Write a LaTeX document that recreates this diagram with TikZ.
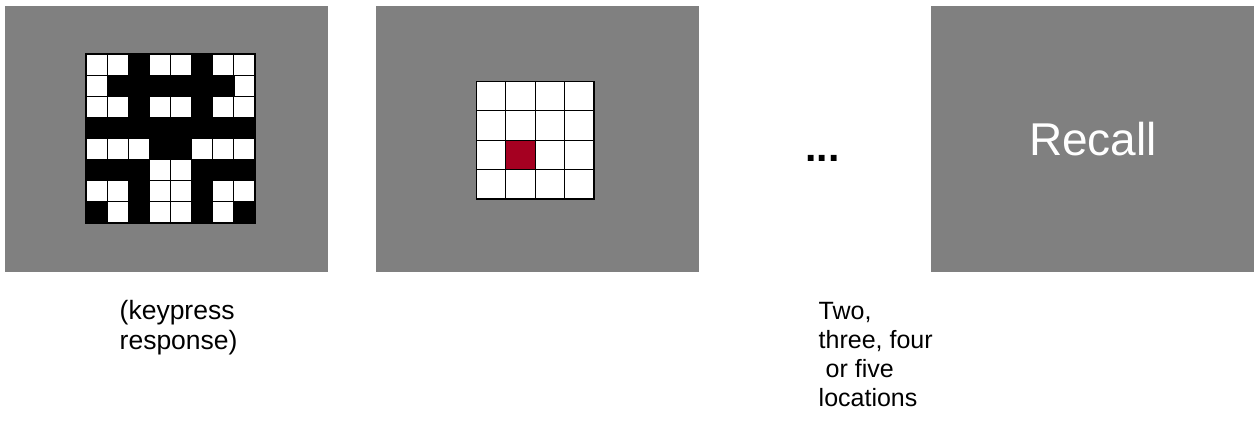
\documentclass[tikz,border=0pt]{standalone}
\usepackage{fontspec}
\setmainfont{Liberation Sans}
\definecolor{panelgray}{RGB}{128,128,128}
\definecolor{cuered}{RGB}{165,0,33}
\begin{document}
\begin{tikzpicture}[x=1pt,y=-1pt,
  panel/.style={fill=panelgray, draw=none, minimum width=323pt, minimum height=266pt, inner sep=0pt, anchor=north west},
  gridline/.style={draw=black, line width=1pt},
  label/.style={anchor=north west, inner sep=0pt, align=left, font=\fontsize{25}{29}\selectfont}
]
\useasboundingbox[fill=white] (0,0) rectangle (1254,435);

% panels
\node[panel] (p1) at (5,6) {};
\node[panel] (p2) at (376,6) {};
\node[panel] (p4) at (931,6) {};

% grid 1: 8x8 black/white pattern
\def\ga{21.125}
\fill[white] (86,54) rectangle (255,223);
\foreach \i in {0,...,8} {
  \draw[gridline] ({86+\i*\ga},54) -- ({86+\i*\ga},223);
  \draw[gridline] (86,{54+\i*\ga}) -- (255,{54+\i*\ga});
}
\foreach \c/\r in {2/0,5/0,
  1/1,2/1,3/1,4/1,5/1,6/1,
  2/2,5/2,
  0/3,1/3,2/3,3/3,4/3,5/3,6/3,7/3,
  3/4,4/4,
  0/5,1/5,2/5,5/5,6/5,7/5,
  2/6,5/6,
  0/7,2/7,5/7,7/7}
  \filldraw[black, line width=0.6pt] ({86+\c*\ga},{54+\r*\ga}) rectangle ++(\ga,\ga);
\draw[black, line width=1.5pt] (86,54) rectangle (255,223);

% grid 2: 4x4 with one red cell
\def\gb{29.375}
\fill[white] (476.5,81.5) rectangle (594,199);
\fill[cuered] ({476.5+1*\gb},{81.5+2*\gb}) rectangle ++(\gb,\gb);
\foreach \i in {0,...,4} {
  \draw[gridline] ({476.5+\i*\gb},81.5) -- ({476.5+\i*\gb},199);
  \draw[gridline] (476.5,{81.5+\i*\gb}) -- (594,{81.5+\i*\gb});
}
\draw[black, line width=1.5pt] (476.5,81.5) rectangle (594,199);

% ellipsis
\node[anchor=base west, inner sep=0pt, font=\fontsize{41}{44}\selectfont\bfseries] (dots) at (805,161.5) {...};

% recall
\node[inner sep=0pt, text=white, font=\fontsize{46}{52}\selectfont] (recall) at (1093,139.5) {Recall};

% labels
\node[label, font=\fontsize{26.5}{29.5}\selectfont] (lab1) at (119.5,300.5) {(keypress\\response)};
\node[label] (lab3) at (818.5,302) {Two,\\three, four\\\hspace*{0.278em}or five\\locations};
\end{tikzpicture}
\end{document}
